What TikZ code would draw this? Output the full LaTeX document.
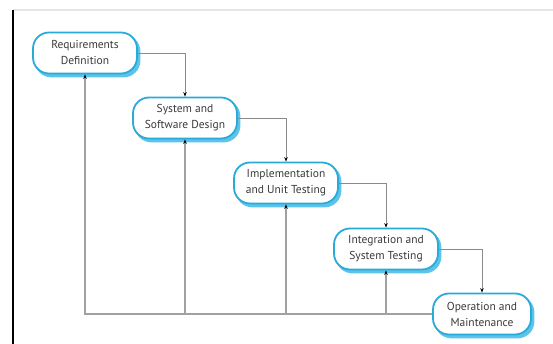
\documentclass[tikz,border=0pt]{standalone}
\usepackage{fontspec}
\setmainfont{PT Sans}
\usetikzlibrary{arrows.meta}
\definecolor{boxcyan}{HTML}{2AAAD9}
\definecolor{shadowcyan}{HTML}{5CC4EA}
\definecolor{linegrey}{HTML}{8A8A8A}
\definecolor{txt}{HTML}{3A3A3A}
\tikzset{
  phase/.style={draw=boxcyan, line width=1.8pt, fill=white, rounded corners=16pt,
    minimum width=104pt, minimum height=41pt, align=center, text=txt,
    font=\fontsize{11.5}{16}\selectfont, inner sep=2pt,
    preaction={draw=shadowcyan, fill=shadowcyan, line width=1.8pt, transform canvas={shift={(2.5pt,-3pt)}}}},
  flow/.style={draw=linegrey, line width=0.9pt, -{Stealth[length=4.5pt,width=3.5pt,black]}},
  back/.style={draw=linegrey!80, line width=1.1pt, -{Stealth[length=4.5pt,width=3.5pt,black]}},
  plain/.style={draw=linegrey!80, line width=1.1pt}
}
\begin{document}
\begin{tikzpicture}[x=1pt,y=1pt]
\useasboundingbox (0,0) rectangle (553,-344);
\draw[black!10, line width=1.2pt] (13,-10) -- (553,-10);
\draw[black, line width=1.4pt] (13,-10) -- (13,-344);

\node[phase] (n1) at (85,-53) {Requirements\\Definition};
\node[phase] (n2) at (185,-118) {System and\\Software Design};
\node[phase] (n3) at (286,-183) {Implementation\\and Unit Testing};
\node[phase] (n4) at (386,-249) {Integration and\\System Testing};
\node[phase, minimum width=98pt] (n5) at (482,-314) {Operation and\\Maintenance};

\draw[flow] (n1.east) -| (n2.north);
\draw[flow] (n2.east) -| (n3.north);
\draw[flow] (n3.east) -| (n4.north);
\draw[flow] (n4.east) -| (n5.north);

\draw[back] (n5.west) -| (n1.south);
\draw[back] (n5.west -| n2.south) -- (n2.south);
\draw[back] (n5.west -| n3.south) -- (n3.south);
\draw[back] (n5.west -| n4.south) -- (n4.south);
\end{tikzpicture}
\end{document}
